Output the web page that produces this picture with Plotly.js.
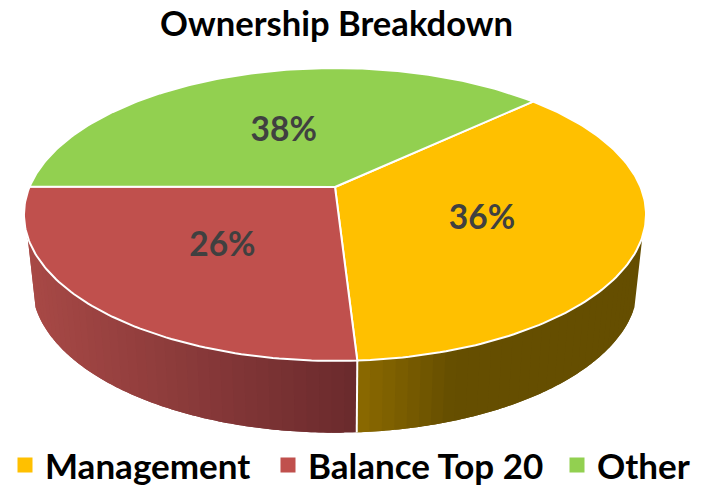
<!DOCTYPE html>
<html><head><meta charset="utf-8">
<script src="https://cdn.plot.ly/plotly-3.0.1.min.js"></script>
<style>html,body{margin:0;padding:0;background:#fff}#c{width:703px;height:485px}</style>
</head><body><div id="c"></div>
<script>
const categories = ['Management', 'Balance Top 20', 'Other'];
const shares = [36, 26, 38];
const faceColors = ['#FFC000', '#C0504D', '#92D050'];
const firstSliceAngle = 47;
const FONT = 'Lato, "Open Sans", sans-serif';

// perspective views of the top and bottom rim of the disc (page pixels)
const topRim = {cx: 335, cy: 187, a: 305.5, b: 141.3, k: 0.1877};
const botRim = {cx: 335, cy: 257, a: 297.6, b: 142.7, k: 0.1877};
const wallFrom = 109.3, wallTo = 250.7;
const legendIds = ['legend', 'legend2', 'legend3'];
const legendLeft = [5, 268, 557];

function pt(rim, deg, r) {
  const t = deg * Math.PI / 180, u = Math.sin(t) * r, v = Math.cos(t) * r;
  const w = 1 + rim.k * v;
  return [rim.cx + rim.a * u / w, rim.cy - rim.b * v / w];
}
function lerp(a, b, t) { return a + (b - a) * Math.max(0, Math.min(1, t)); }
function mix(c1, c2, t) {
  return 'rgb(' + c1.map((c, i) => Math.round(lerp(c, c2[i], t))).join(',') + ')';
}
function wallColor(i, x) {
  if (i === 0) return mix([140, 106, 0], [101, 78, 0], (x - 357) / 95);
  return mix([168, 73, 70], [106, 42, 45], (x - 30) / 327);
}

const total = shares.reduce((a, b) => a + b, 0);
let bounds = [firstSliceAngle];
shares.forEach(s => bounds.push(bounds[bounds.length - 1] + s / total * 360));

const traces = [];
// walls: each strip overlaps the next one so no seams show
shares.forEach((s, i) => {
  const lo = Math.max(bounds[i], wallFrom), hi = Math.min(bounds[i + 1], wallTo);
  if (hi <= lo) return;
  const n = Math.ceil((hi - lo) / 2);
  for (let j = 0; j < n; j++) {
    const a0 = lerp(lo, hi, j / n), a1 = Math.min(hi, lerp(lo, hi, (j + 2) / n));
    const xs = [], ys = [];
    const m = 6;
    for (let q = 0; q <= m; q++) { const p = pt(topRim, lerp(a0, a1, q / m), 1); xs.push(p[0]); ys.push(p[1]); }
    for (let q = m; q >= 0; q--) { const p = pt(botRim, lerp(a0, a1, q / m), 1); xs.push(p[0]); ys.push(p[1]); }
    xs.push(xs[0]); ys.push(ys[0]);
    const mid = (pt(topRim, lerp(lo, hi, (j + .5) / n), 1)[0] + pt(botRim, lerp(lo, hi, (j + .5) / n), 1)[0]) / 2;
    const col = wallColor(i, mid);
    traces.push({x: xs, y: ys, mode: 'none', fill: 'toself', fillcolor: col, hoverinfo: 'skip', showlegend: false});
  }
});
// seam between the walls
const seam = bounds[1];
traces.push({x: [pt(topRim, seam, 1)[0], pt(botRim, seam, 1)[0]], y: [pt(topRim, seam, 1)[1], pt(botRim, seam, 1)[1]],
  mode: 'lines', line: {color: '#fff', width: 2}, hoverinfo: 'skip', showlegend: false});
// top faces
shares.forEach((s, i) => {
  const xs = [topRim.cx], ys = [topRim.cy];
  const n = Math.ceil((bounds[i + 1] - bounds[i]));
  for (let j = 0; j <= n; j++) {
    const p = pt(topRim, lerp(bounds[i], bounds[i + 1], j / n), 1);
    xs.push(p[0]); ys.push(p[1]);
  }
  xs.push(topRim.cx); ys.push(topRim.cy);
  traces.push({x: xs, y: ys, mode: 'lines', fill: 'toself', fillcolor: faceColors[i],
    line: {color: '#fff', width: 2}, hoverinfo: 'skip', showlegend: false});
});
// percentage labels
const lab = shares.map((s, i) => pt(topRim, (bounds[i] + bounds[i + 1]) / 2, 0.5));
traces.push({x: lab.map(p => p[0]), y: lab.map(p => p[1] + 6), mode: 'text',
  text: shares.map(s => Math.round(s / total * 100) + '%'), textposition: 'middle center',
  textfont: {family: FONT, size: 33.5, color: '#404040', weight: 700}, hoverinfo: 'skip', showlegend: false});
// legend entries
categories.forEach((c, i) => traces.push({x: [-500], y: [-500], name: c, mode: 'markers', legend: legendIds[i],
  marker: {symbol: 'square', size: 15, color: faceColors[i]}, hoverinfo: 'skip', showlegend: true}));

const layout = {
  width: 703, height: 485, margin: {l: 0, r: 0, t: 0, b: 0, pad: 0, autoexpand: false},
  paper_bgcolor: '#fff', plot_bgcolor: '#fff', showlegend: true,
  title: {text: 'Ownership Breakdown', x: 0.4787, xanchor: 'center', y: 0.951, yanchor: 'middle',
    font: {family: FONT, size: 34.6, color: '#000', weight: 700}},
  xaxis: {range: [0, 703], visible: false, fixedrange: true},
  yaxis: {range: [485, 0], visible: false, fixedrange: true}
};
legendIds.forEach((id, i) => {
  layout[id] = {orientation: 'h', x: legendLeft[i] / 703, xanchor: 'left', y: -0.02, yanchor: 'bottom',
    font: {family: FONT, size: 35, color: '#000', weight: 700}, bgcolor: 'rgba(0,0,0,0)',
    itemclick: false, itemdoubleclick: false};
});
Plotly.newPlot('c', traces, layout, {displayModeBar: false, responsive: false});
</script></body></html>
